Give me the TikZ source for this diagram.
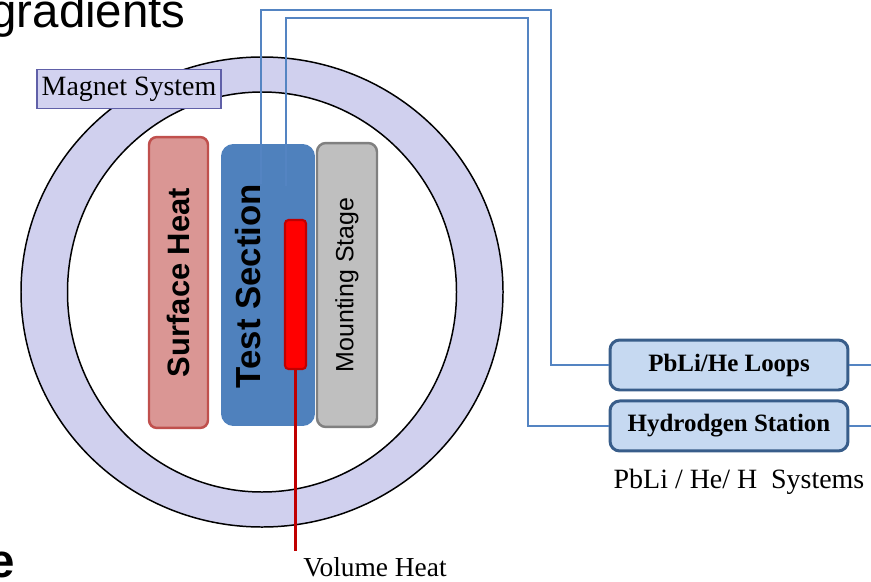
\documentclass[tikz,border=0pt]{standalone}
\usepackage{fontspec}
\setmainfont{Liberation Serif}
\setsansfont{Liberation Sans}
\usetikzlibrary{positioning}

\definecolor{ringfill}{RGB}{208,208,238}
\definecolor{labelfill}{RGB}{210,210,240}
\definecolor{labeledge}{RGB}{96,96,168}
\definecolor{shfill}{RGB}{218,150,148}
\definecolor{shedge}{RGB}{192,80,77}
\definecolor{tsfill}{RGB}{79,129,189}
\definecolor{msfill}{RGB}{191,191,191}
\definecolor{msedge}{RGB}{128,128,128}
\definecolor{heatred}{RGB}{255,0,0}
\definecolor{heatedge}{RGB}{192,0,0}
\definecolor{wireblue}{RGB}{84,132,194}
\definecolor{sysfill}{RGB}{198,217,241}
\definecolor{sysedge}{RGB}{56,93,138}

\begin{document}
\begin{tikzpicture}[x=0.02cm, y=-0.02cm,
  column/.style={rotate=90, inner sep=0, line width=1.4pt},
  sysbox/.style={draw=sysedge, fill=sysfill, line width=1.7pt, rounded corners=5.5pt, minimum width=4.76cm, minimum height=1cm, inner sep=0, font=\fontsize{14.2}{16}\selectfont\bfseries},
  wire/.style={wireblue, line width=1.1pt}]
\useasboundingbox (0,0) rectangle (871,581);
%slide text (cut)
\node[anchor=base east, inner sep=0, font=\sffamily\fontsize{27}{30}\selectfont] (grad) at (186,28) {gradients};
\node[anchor=base east, inner sep=0, font=\sffamily\bfseries\fontsize{27}{30}\selectfont] (tail) at (15,577) {e};
%magnet ring
\draw[line width=0.85pt, fill=ringfill, even odd rule] (262,292) ellipse [x radius=241, y radius=235] (262,292) ellipse [x radius=194.5, y radius=200];
\node[draw=labeledge, fill=labelfill, line width=0.6pt, minimum width=3.68cm, minimum height=0.78cm, inner sep=0, font=\fontsize{15.9}{18}\selectfont] (magnet) at (129,89) {Magnet System};
%columns
\node[column, draw=shedge, fill=shfill, rounded corners=4.5pt, minimum width=5.82cm, minimum height=1.18cm, font=\sffamily\bfseries\fontsize{17.6}{20}\selectfont] (surf) at (178.5,282.5) {Surface Heat};
\node[column, fill=tsfill, rounded corners=7pt, minimum width=5.64cm, minimum height=1.88cm] (test) at (268,285) {};
\node[rotate=90, inner sep=0, font=\sffamily\bfseries\fontsize{19.8}{22}\selectfont] (testtxt) at (248,286) {Test Section};
\node[column, draw=msedge, fill=msfill, rounded corners=5pt, minimum width=5.68cm, minimum height=1.2cm, font=\sffamily\fontsize{14.2}{16}\selectfont] (mount) at (347,285) {Mounting Stage};
%volume heater
\node[column, draw=heatedge, fill=heatred, line width=1.2pt, rounded corners=2pt, minimum width=2.98cm, minimum height=0.42cm] (heater) at (295.5,294.5) {};
\coordinate (vh) at (295.5,551);
\draw[heatedge, line width=2pt] (heater.west) -- (vh);
\node[inner sep=0, font=\fontsize{15.6}{18}\selectfont] (vlabel) at (375,567.5) {Volume Heat};
%systems
\node[sysbox] (loops) at (729,365) {PbLi/He Loops};
\node[sysbox, below=0.16cm of loops] (hydro) {Hydrodgen Station};
\node[anchor=base, inner sep=0, font=\fontsize{15.9}{18}\selectfont] (sys) at (739,488) {PbLi / He/ H\ \ Systems};
%wires
\coordinate (w1) at (261,184);
\coordinate (w2) at (286,186);
\coordinate (outA) at (loops.east -| 871,0);
\coordinate (outB) at (hydro.east -| 871,0);
\draw[wire] (w1) |- (551,10) |- (loops.west);
\draw[wire] (w2) |- (528,18) |- (hydro.west);
\draw[wire] (loops.east) -- (outA);
\draw[wire] (hydro.east) -- (outB);
\end{tikzpicture}
\end{document}
